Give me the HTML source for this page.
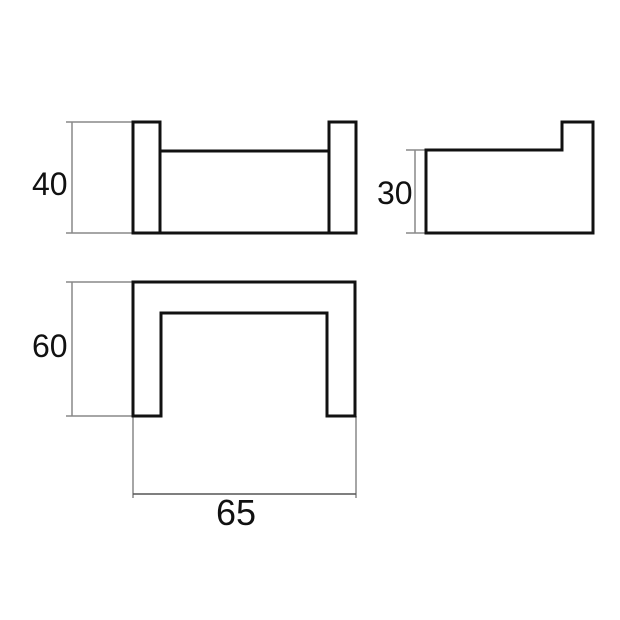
<!DOCTYPE html>
<html><head><meta charset="utf-8"><style>html,body{margin:0;padding:0;background:#fff}svg{display:block}</style></head>
<body>
<svg width="620" height="620" viewBox="0 0 620 620" xmlns="http://www.w3.org/2000/svg">
<g stroke="#888" stroke-width="1.5" fill="none">
  <line x1="66" y1="122" x2="132" y2="122"/><line x1="66" y1="233" x2="132" y2="233"/>
  <line x1="72" y1="122" x2="72" y2="233"/>
  <line x1="66" y1="282" x2="132" y2="282"/><line x1="66" y1="416" x2="132" y2="416"/>
  <line x1="72" y1="282" x2="72" y2="416"/>
  <line x1="133" y1="416" x2="133" y2="498"/><line x1="356" y1="416" x2="356" y2="498"/>
  <line x1="133" y1="494" x2="356" y2="494" stroke="#555"/>
  <line x1="406" y1="150" x2="426" y2="150"/><line x1="406" y1="233" x2="426" y2="233"/>
  <line x1="415" y1="150" x2="415" y2="233"/>
</g>
<g stroke="#111" stroke-width="3" fill="none">
  <rect x="133" y="122" width="27" height="111"/>
  <rect x="329" y="122" width="27" height="111"/>
  <line x1="160" y1="151" x2="329" y2="151"/>
  <line x1="160" y1="233" x2="329" y2="233"/>
</g>
<g stroke="#111" stroke-width="3" fill="none">
  <path d="M426 150 H562 V122 H593 V233 H426 Z"/>
</g>
<g stroke="#111" stroke-width="3" fill="none">
  <path d="M133 282 H355 V416 H327 V313 H161 V416 H133 Z"/>
</g>
<g font-family="Liberation Sans, sans-serif" fill="#111">
  <text x="32" y="195" font-size="32">40</text>
  <text x="32" y="357" font-size="32">60</text>
  <text x="377" y="204" font-size="32">30</text>
  <text x="236" y="525" font-size="36" text-anchor="middle">65</text>
</g>
</svg>
</body></html>
